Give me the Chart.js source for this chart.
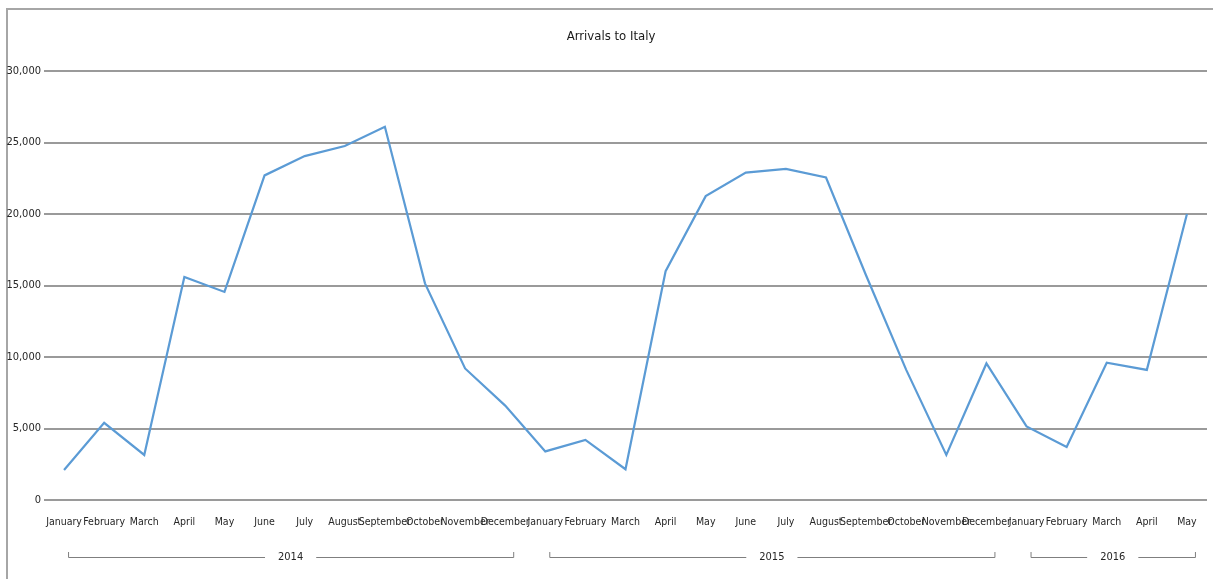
<!DOCTYPE html>
<html>
<head>
<meta charset="utf-8">
<script src="https://cdn.jsdelivr.net/npm/chart.js@4/dist/chart.umd.min.js"></script>
<style>
  html, body { margin: 0; padding: 0; background: #fff; }
  #wrap { position: relative; width: 1213px; height: 579px; overflow: hidden; }
  #frame { position: absolute; left: 6px; top: 8px; width: 1300px; height: 700px;
           border-left: 2px solid #a6a6a6; border-top: 2px solid #a6a6a6; box-sizing: border-box; }
  canvas { position: absolute; left: 0; top: 0; }
</style>
</head>
<body>
<div id="wrap">
  <div id="frame"></div>
  <canvas id="c" width="1213" height="579"></canvas>
</div>
<script>
// ---- data ----
const chartTitle = 'Arrivals to Italy';
const months2014 = ['January','February','March','April','May','June','July','August','September','October','November','December'];
const months2015 = ['January','February','March','April','May','June','July','August','September','October','November','December'];
const months2016 = ['January','February','March','April','May'];
const years = ['2014', '2015', '2016'];
const arrivals2014 = [2100, 5400, 3150, 15600, 14550, 22700, 24050, 24750, 26100, 15150, 9200, 6600];
const arrivals2015 = [3400, 4200, 2150, 16000, 21250, 22900, 23150, 22550, 15700, 9100, 3150, 9550];
const arrivals2016 = [5150, 3700, 9600, 9100, 20000];
const yTicks = [0, 5000, 10000, 15000, 20000, 25000, 30000];

const monthGroups = [months2014, months2015, months2016];
const categories = [].concat(months2014, months2015, months2016);
const values = [].concat(arrivals2014, arrivals2015, arrivals2016);

const FONT = "'DejaVu Sans Condensed', 'Liberation Sans Narrow', sans-serif";

const titlePlugin = {
  id: 'centeredTitle',
  afterDraw(chart) {
    const ctx = chart.ctx;
    ctx.save();
    ctx.font = '13px ' + FONT;
    ctx.fillStyle = '#1a1a1a';
    ctx.textAlign = 'center';
    ctx.textBaseline = 'middle';
    ctx.fillText(chartTitle, 611, 37);
    ctx.restore();
  }
};

const yearBrackets = {
  id: 'yearBrackets',
  afterDraw(chart) {
    const x = chart.scales.x;
    const ctx = chart.ctx;
    const y = 557;
    ctx.save();
    ctx.strokeStyle = '#7f7f7f';
    ctx.lineWidth = 1;
    ctx.font = '11px ' + FONT;
    ctx.fillStyle = '#262626';
    ctx.textAlign = 'center';
    ctx.textBaseline = 'middle';
    let idx = 0;
    monthGroups.forEach((g, gi) => {
      const x1 = x.getPixelForValue(idx) + 4;
      const x2 = x.getPixelForValue(idx + g.length - 1) + 8;
      const mid = (x1 + x2) / 2;
      const tw = ctx.measureText(years[gi]).width;
      const gap = 13;
      ctx.beginPath();
      ctx.moveTo(x1 + 0.5, y - 5);
      ctx.lineTo(x1 + 0.5, y + 0.5);
      ctx.lineTo(mid - tw / 2 - gap, y + 0.5);
      ctx.moveTo(mid + tw / 2 + gap, y + 0.5);
      ctx.lineTo(x2 + 0.5, y + 0.5);
      ctx.lineTo(x2 + 0.5, y - 5);
      ctx.stroke();
      ctx.fillText(years[gi], mid, y);
      idx += g.length;
    });
    ctx.restore();
  }
};

new Chart(document.getElementById('c'), {
  type: 'line',
  data: {
    labels: categories,
    datasets: [{
      label: 'Arrivals',
      data: values,
      borderColor: '#5B9BD5',
      borderWidth: 2.2,
      pointRadius: 0,
      tension: 0,
      fill: false
    }]
  },
  options: {
    responsive: false,
    animation: false,
    devicePixelRatio: 1,
    layout: { padding: { left: 0, right: 6, top: 71, bottom: 0 } },
    plugins: {
      legend: { display: false },
      tooltip: { enabled: false },
      title: { display: false }
    },
    scales: {
      x: {
        type: 'category',
        offset: true,
        grid: { display: false, drawTicks: false },
        border: { display: false },
        ticks: {
          autoSkip: false, maxRotation: 0, minRotation: 0,
          color: '#262626', padding: 16,
          font: { family: FONT, size: 10.5 }
        },
        afterFit(s) { s.height = 79; }
      },
      y: {
        min: 0, max: 30000,
        afterBuildTicks(s) { s.ticks = yTicks.map(v => ({ value: v })); },
        grid: { color: '#9a9a9a', lineWidth: 2, drawTicks: false },
        border: { display: false },
        ticks: {
          color: '#262626', padding: 3,
          font: { family: FONT, size: 11 },
          callback: v => v.toLocaleString('en-US')
        },
        afterFit(s) { s.width = 44; }
      }
    }
  },
  plugins: [titlePlugin, yearBrackets]
});
</script>
</body>
</html>
